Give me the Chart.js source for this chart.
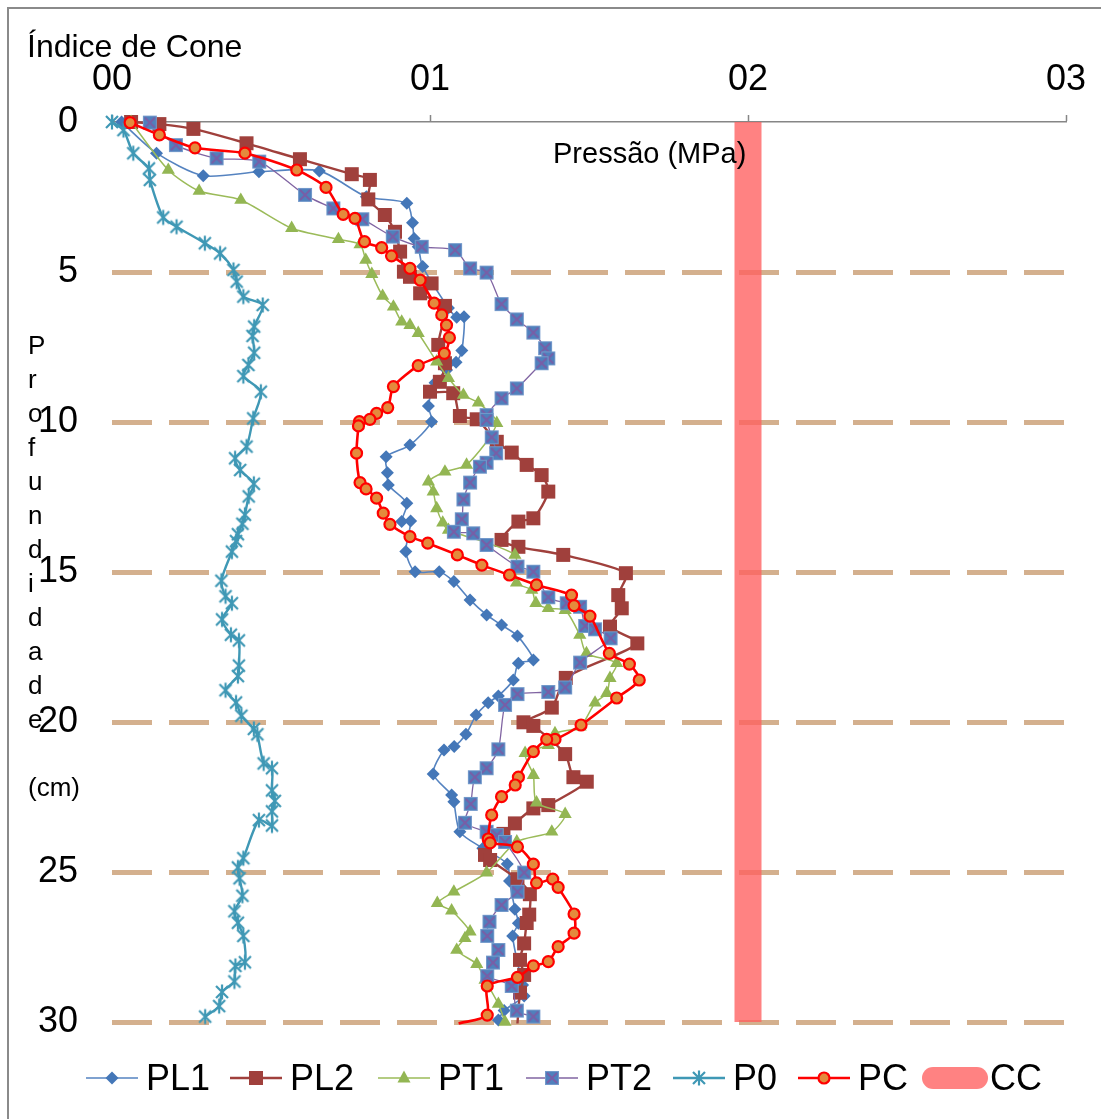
<!DOCTYPE html>
<html lang="pt">
<head>
<meta charset="utf-8">
<title>Índice de Cone</title>
<script src="https://cdn.jsdelivr.net/npm/chart.js@4.4.1/dist/chart.umd.min.js"></script>
<style>
  html, body { margin: 0; padding: 0; background: #fff; }
  body { width: 1101px; height: 1119px; position: relative; overflow: hidden;
         font-family: "Liberation Sans", Arial, sans-serif; color: #000; }
  #frame { position: absolute; left: 7px; top: 7px; width: 1300px; height: 1300px;
           border-left: 2px solid #8a8a8a; border-top: 2px solid #8a8a8a; box-sizing: border-box; }
  #chart { position: absolute; left: 0; top: 0; }
  .txt { position: absolute; white-space: nowrap; line-height: 1; }
  #titulo { left: 27px; top: 30px; font-size: 32px; }
  #eixoX { left: 553px; top: 139px; font-size: 29px; }
  #eixoY { position: absolute; left: 28px; top: 328px; font-size: 26px; line-height: 34px; }
  .leg { position: absolute; top: 1060px; display: flex; align-items: center; font-size: 36px; line-height: 1; }
  .leg canvas { display: block; }
  .leg span { margin-left: 8px; }
  .ccbar { width: 66px; height: 22px; border-radius: 11px; background: rgba(255,95,95,0.78); }
</style>
</head>
<body>
<div id="frame"></div>
<canvas id="chart" width="1101" height="1119"></canvas>
<div class="txt" id="titulo">Índice de Cone</div>
<div class="txt" id="eixoX">Pressão (MPa)</div>
<div id="eixoY">P<br>r<br>o<br>f<br>u<br>n<br>d<br>i<br>d<br>a<br>d<br>e<br><br>(cm)</div>
<div id="legenda"></div>

<script>
// Pressão (MPa) x profundidade (cm), pares [pressão, profundidade]
const PL1 = [
  [0.03,0.0],[0.140,1.04],[0.287,1.79],[0.462,1.66],[0.652,1.63],[0.80,2.49],[0.927,2.71],
  [0.945,3.36],[0.950,3.88],[0.963,4.16],[0.977,4.82],[1.058,6.2],[1.084,6.51],[1.107,6.49],
  [1.100,7.62],[1.082,8.01],[1.052,8.27],[1.016,8.69],[0.995,9.47],[1.005,9.99],[0.937,10.77],
  [0.862,11.16],[0.866,11.69],[0.869,12.1],[0.927,12.71],[0.911,13.32],[0.939,13.3],[0.924,14.32],
  [0.953,14.99],[1.029,14.99],[1.075,15.32],[1.126,15.93],[1.178,16.43],[1.225,16.77],[1.275,17.13],
  [1.325,17.93],[1.278,18.04],[1.262,18.6],[1.215,19.13],[1.183,19.36],[1.145,19.77],[1.113,20.41],
  [1.076,20.82],[1.044,20.93],[1.010,21.73],[1.068,22.43],[1.075,22.66],[1.094,23.66],[1.166,24.21],
  [1.243,24.73],[1.25,25.3],[1.267,26.24],[1.278,26.71],[1.260,27.13],[1.291,28.77],[1.296,29.13],
  [1.233,29.62],[1.215,29.93]
];
const PL2 = [
  [0.06,0.0],[0.149,0.07],[0.256,0.23],[0.423,0.71],[0.591,1.24],[0.754,1.74],[0.811,1.93],
  [0.806,2.58],[0.858,3.1],[0.890,3.66],[0.906,4.32],[0.918,4.99],[0.937,5.16],[1.005,5.38],
  [0.969,5.71],[1.047,6.13],[1.026,7.43],[1.047,8.04],[1.031,8.66],[1.0,8.99],[1.073,9.04],
  [1.094,9.80],[1.147,9.91],[1.210,10.66],[1.257,11.02],[1.304,11.43],[1.351,11.77],[1.372,12.32],
  [1.325,13.21],[1.278,13.32],[1.225,13.93],[1.278,14.16],[1.419,14.43],[1.616,15.04],[1.592,15.77],
  [1.603,16.21],[1.566,16.82],[1.652,17.38],[1.427,18.53],[1.383,19.52],[1.294,20.01],[1.325,20.13],
  [1.425,21.07],[1.451,21.84],[1.493,21.99],[1.372,22.77],[1.325,22.88],[1.267,23.38],[1.231,23.73],
  [1.173,24.43],[1.189,24.6],[1.275,25.24],[1.314,25.74],[1.312,26.42],[1.304,26.7],[1.296,27.38],
  [1.283,27.93],[1.296,28.43],[1.283,29.02],[1.275,30.05]
];
const PT1 = [
  [0.06,0.0],[0.177,1.6],[0.274,2.3],[0.405,2.6],[0.565,3.54],[0.712,3.91],[0.780,4.08],
  [0.798,4.6],[0.817,5.07],[0.851,5.8],[0.885,6.16],[0.911,6.66],[0.937,6.77],[0.963,7.04],
  [1.021,7.99],[1.058,8.54],[1.105,9.1],[1.152,9.36],[1.210,10.04],[1.115,11.43],[1.047,11.66],
  [0.995,11.99],[1.010,12.32],[1.021,12.88],[1.040,13.36],[1.058,13.6],[1.267,14.43],[1.272,15.36],
  [1.320,15.6],[1.333,16.04],[1.372,16.21],[1.425,16.27],[1.471,17.1],[1.492,17.71],[1.587,18.04],
  [1.566,18.54],[1.556,19.04],[1.519,19.36],[1.472,20.16],[1.393,20.38],[1.372,20.77],[1.299,21.04],
  [1.325,21.77],[1.335,22.69],[1.425,23.07],[1.383,23.66],[1.273,23.99],[1.178,25.02],[1.075,25.66],
  [1.023,26.04],[1.068,26.29],[1.126,26.99],[1.110,27.21],[1.084,27.6],[1.147,28.07],[1.173,28.6],
  [1.215,29.4],[1.236,30.0]
];
const PT2 = [
  [0.119,0.02],[0.201,0.77],[0.329,1.21],[0.463,1.32],[0.607,2.43],[0.696,2.88],[0.787,3.24],
  [0.883,3.82],[0.974,4.16],[1.079,4.27],[1.126,4.88],[1.178,5.02],[1.225,6.07],[1.273,6.58],
  [1.325,7.02],[1.362,7.54],[1.372,7.88],[1.351,8.04],[1.273,8.88],[1.225,9.21],[1.178,9.77],
  [1.178,9.93],[1.194,10.51],[1.208,11.04],[1.178,11.36],[1.157,11.49],[1.126,12.02],[1.105,12.58],
  [1.100,13.24],[1.075,13.66],[1.136,13.71],[1.178,14.1],[1.275,14.82],[1.325,14.99],[1.372,15.84],
  [1.430,16.04],[1.472,16.16],[1.488,16.8],[1.519,16.91],[1.568,17.21],[1.472,18.02],[1.425,18.85],
  [1.372,19.0],[1.275,19.07],[1.236,19.43],[1.215,20.91],[1.178,21.54],[1.141,21.84],[1.128,22.73],
  [1.110,23.36],[1.178,23.66],[1.210,23.77],[1.236,24.0],[1.296,25.02],[1.275,25.66],[1.225,26.1],
  [1.187,26.66],[1.180,27.13],[1.215,27.6],[1.198,28.02],[1.180,28.47],[1.257,28.8],[1.273,29.62],
  [1.325,29.82]
];
const P0 = [
  [0.0,0.0],[0.036,0.27],[0.067,1.04],[0.116,1.55],[0.119,1.93],[0.161,3.18],[0.203,3.49],
  [0.292,4.04],[0.340,4.38],[0.382,4.93],[0.392,5.32],[0.413,5.82],[0.474,6.1],[0.447,6.82],
  [0.442,7.13],[0.447,7.69],[0.429,8.1],[0.413,8.47],[0.468,8.99],[0.444,9.88],[0.423,10.82],
  [0.387,11.21],[0.403,11.6],[0.446,12.06],[0.430,12.48],[0.418,13.09],[0.410,13.39],[0.396,13.74],
  [0.390,13.97],[0.377,14.32],[0.344,15.29],[0.357,15.81],[0.377,16.04],[0.346,16.58],[0.374,17.09],
  [0.399,17.28],[0.399,18.12],[0.396,18.47],[0.357,18.94],[0.390,19.35],[0.407,19.79],[0.446,20.23],
  [0.457,20.41],[0.477,21.38],[0.503,21.54],[0.503,22.28],[0.512,22.63],[0.503,22.98],[0.503,23.45],
  [0.462,23.27],[0.413,24.54],[0.396,24.85],[0.401,25.21],[0.410,25.79],[0.385,26.31],[0.396,26.69],
  [0.413,27.13],[0.418,28.01],[0.388,28.13],[0.385,28.65],[0.346,29.0],[0.337,29.47],[0.293,29.82]
];
const PC = [
  [0.057,0.02],[0.149,0.43],[0.261,0.86],[0.418,1.04],[0.581,1.6],[0.673,2.18],[0.727,3.08],
  [0.764,3.21],[0.794,3.99],[0.848,4.19],[0.879,4.46],[0.937,4.88],[0.969,5.27],[1.013,6.04],
  [1.037,6.43],[1.052,6.77],[1.061,7.19],[1.045,7.71],[0.963,8.12],[0.885,8.82],[0.867,9.52],
  [0.832,9.71],[0.811,9.91],[0.778,9.99],[0.775,10.13],[0.769,11.04],[0.780,12.02],[0.799,12.23],
  [0.832,12.54],[0.853,13.04],[0.874,13.41],[0.937,13.82],[0.993,14.04],[1.086,14.43],[1.163,14.77],
  [1.250,15.1],[1.335,15.43],[1.445,15.77],[1.453,16.12],[1.503,16.47],[1.564,17.71],[1.627,18.07],
  [1.658,18.6],[1.587,19.2],[1.475,20.1],[1.393,20.58],[1.367,20.58],[1.325,20.99],[1.278,21.84],
  [1.268,22.1],[1.225,22.49],[1.194,23.1],[1.183,23.9],[1.189,24.03],[1.275,24.16],[1.325,24.74],
  [1.335,25.36],[1.386,25.24],[1.403,25.51],[1.453,26.4],[1.453,27.04],[1.403,27.49],[1.372,27.99],
  [1.325,28.13],[1.275,28.51],[1.180,28.8],[1.180,29.77],[1.09,30.05]
];
// Linha de referência CC
const CC = [[2, 0], [2, 30]];

const PROF_MAX = 30;
const PRESSAO_MAX = 3;

// cores
const COR = {
  PL1: '#4477b8', PL2: '#a0403c', PT1: '#93b653', PT2line: '#8064a2', PT2fill: '#4f81bd',
  PT2x: '#7a5da6', P0: '#3f98b5', PC: '#ff0000', PCfill: '#e48a3c',
  CC: 'rgba(255,95,95,0.78)', grade: '#d4b08e', eixo: '#868686'
};

// desenho dos marcadores (também usado na legenda)
function desenhaMarcador(ctx, tipo, cx, cy) {
  ctx.save();
  ctx.lineJoin = 'miter';
  switch (tipo) {
    case 'losango':
      ctx.fillStyle = COR.PL1;
      ctx.beginPath();
      ctx.moveTo(cx - 6.5, cy); ctx.lineTo(cx, cy - 6.5); ctx.lineTo(cx + 6.5, cy); ctx.lineTo(cx, cy + 6.5);
      ctx.closePath(); ctx.fill();
      break;
    case 'quadrado':
      ctx.fillStyle = COR.PL2;
      ctx.fillRect(cx - 7, cy - 7, 14, 14);
      break;
    case 'triangulo':
      ctx.fillStyle = COR.PT1;
      ctx.beginPath();
      ctx.moveTo(cx, cy - 7.5); ctx.lineTo(cx + 6.5, cy + 4.5); ctx.lineTo(cx - 6.5, cy + 4.5);
      ctx.closePath(); ctx.fill();
      break;
    case 'quadradoX':
      ctx.fillStyle = COR.PT2fill;
      ctx.fillRect(cx - 7, cy - 7, 14, 14);
      ctx.strokeStyle = '#7399cb'; ctx.lineWidth = 1;
      ctx.strokeRect(cx - 6.5, cy - 6.5, 13, 13);
      ctx.strokeStyle = COR.PT2x; ctx.lineWidth = 1.8;
      ctx.beginPath();
      ctx.moveTo(cx - 5, cy - 5); ctx.lineTo(cx + 5, cy + 5);
      ctx.moveTo(cx + 5, cy - 5); ctx.lineTo(cx - 5, cy + 5);
      ctx.stroke();
      break;
    case 'asterisco':
      ctx.strokeStyle = COR.P0; ctx.lineWidth = 2.2;
      ctx.beginPath();
      ctx.moveTo(cx - 6, cy - 6); ctx.lineTo(cx + 6, cy + 6);
      ctx.moveTo(cx + 6, cy - 6); ctx.lineTo(cx - 6, cy + 6);
      ctx.moveTo(cx, cy - 7.5); ctx.lineTo(cx, cy + 7.5);
      ctx.stroke();
      break;
    case 'circulo':
      ctx.fillStyle = COR.PCfill; ctx.strokeStyle = COR.PC; ctx.lineWidth = 2.2;
      ctx.beginPath(); ctx.arc(cx, cy, 5.5, 0, Math.PI * 2); ctx.fill(); ctx.stroke();
      break;
  }
  ctx.restore();
}

function imagemMarcador(tipo) {
  const c = document.createElement('canvas');
  c.width = 18; c.height = 18;
  desenhaMarcador(c.getContext('2d'), tipo, 9, 9);
  return c;
}

const pts = arr => arr.map(p => ({ x: p[0], y: p[1] }));
// pontos fora da escala de profundidade só prolongam a linha
const raio = r => c => (c.raw && c.raw.y > PROF_MAX) ? 0 : r;

const series = [
  { label: 'PL1', data: pts(PL1), borderColor: '#5583c0', borderWidth: 1.6, pointStyle: 'rectRot',
    pointRadius: raio(6.5), pointBackgroundColor: COR.PL1, pointBorderColor: COR.PL1, pointBorderWidth: 0, order: 6, marcador: 'losango' },
  { label: 'PL2', data: pts(PL2), borderColor: COR.PL2, borderWidth: 2.4, pointStyle: 'rect',
    pointRadius: raio(9.9), pointBackgroundColor: COR.PL2, pointBorderColor: COR.PL2, pointBorderWidth: 0, order: 5, marcador: 'quadrado' },
  { label: 'PT1', data: pts(PT1), borderColor: '#9bbb59', borderWidth: 1.5, pointStyle: 'triangle',
    pointRadius: raio(7.6), pointBackgroundColor: COR.PT1, pointBorderColor: COR.PT1, pointBorderWidth: 0, order: 4, marcador: 'triangulo' },
  { label: 'PT2', data: pts(PT2), borderColor: COR.PT2line, borderWidth: 1.3, pointStyle: imagemMarcador('quadradoX'),
    pointRadius: raio(7), order: 3, marcador: 'quadradoX' },
  { label: 'P0', data: pts(P0), borderColor: COR.P0, borderWidth: 2.4, pointStyle: imagemMarcador('asterisco'),
    pointRadius: raio(7), order: 2, marcador: 'asterisco' },
  { label: 'PC', data: pts(PC), borderColor: COR.PC, borderWidth: 2.6, pointStyle: 'circle',
    pointRadius: raio(5.5), pointBackgroundColor: COR.PCfill, pointBorderColor: COR.PC, pointBorderWidth: 2.2, order: 1, marcador: 'circulo' },
  { label: 'CC', data: pts(CC), borderColor: COR.CC, borderWidth: 27, pointRadius: 0, tension: 0,
    borderCapStyle: 'butt', order: 0, marcador: 'barra' }
];

const datasets = series.map(s => Object.assign({ showLine: true, tension: 0.25, clip: false, fill: false }, s));

const fonte = { family: '"Liberation Sans", Arial, sans-serif', size: 36 };

new Chart(document.getElementById('chart'), {
  type: 'scatter',
  data: { datasets },
  options: {
    responsive: false,
    animation: false,
    events: [],
    layout: { padding: { left: 0, top: 0, right: 35, bottom: 97 } },
    plugins: { legend: { display: false }, tooltip: { enabled: false } },
    scales: {
      x: {
        type: 'linear', position: 'top', min: 0, max: PRESSAO_MAX,
        ticks: { stepSize: 1, color: '#000', font: fonte, padding: 13,
                 callback: v => String(v).padStart(2, '0') },
        grid: { drawOnChartArea: false, drawTicks: true, tickLength: 7, tickColor: COR.eixo, tickWidth: 1.5 },
        border: { display: true, color: COR.eixo, width: 1.5 },
        afterFit: s => { s.height = 122; }
      },
      y: {
        type: 'linear', position: 'left', reverse: true, min: 0, max: PROF_MAX,
        ticks: { stepSize: 5, color: '#000', font: fonte, padding: 34 },
        grid: { drawTicks: false, lineWidth: 5,
                color: c => (c.tick && c.tick.value === 0) ? 'rgba(0,0,0,0)' : COR.grade },
        border: { display: false, dash: [40, 17] },
        afterFit: s => { s.width = 112; }
      }
    }
  }
});

// legenda
const posLegenda = [86, 230, 378, 526, 673, 798, 922];
const legenda = document.getElementById('legenda');
series.forEach((s, i) => {
  const item = document.createElement('div');
  item.className = 'leg';
  item.style.left = posLegenda[i] + 'px';
  if (s.marcador === 'barra') {
    const b = document.createElement('div');
    b.className = 'ccbar';
    item.appendChild(b);
  } else {
    const c = document.createElement('canvas');
    c.width = 52; c.height = 30;
    const ctx = c.getContext('2d');
    ctx.strokeStyle = s.borderColor; ctx.lineWidth = s.borderWidth;
    ctx.beginPath(); ctx.moveTo(0, 15); ctx.lineTo(52, 15); ctx.stroke();
    desenhaMarcador(ctx, s.marcador, 26, 15);
    item.appendChild(c);
  }
  const t = document.createElement('span');
  t.textContent = s.label;
  if (s.marcador === 'barra') t.style.marginLeft = '2px';
  item.appendChild(t);
  legenda.appendChild(item);
});
</script>
</body>
</html>
